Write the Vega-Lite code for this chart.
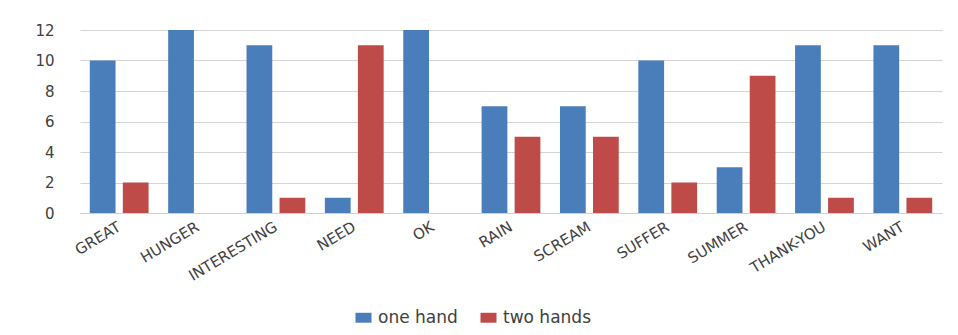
{
  "$schema": "https://vega.github.io/schema/vega-lite/v6.json",
  "width": 862,
  "height": 183,
  "autosize": {"type": "none"},
  "padding": {"left": 80, "top": 30, "right": 16, "bottom": 122},
  "background": "white",
  "config": {
    "view": {"stroke": null},
    "font": "DejaVu Sans",
    "axis": {"labelColor": "#404040", "labelFont": "DejaVu Sans"},
    "legend": {"labelFont": "DejaVu Sans"}
  },
  "data": {
    "values": [
      {"sign": "GREAT", "group": "one hand", "count": 10},
      {"sign": "GREAT", "group": "two hands", "count": 2},
      {"sign": "HUNGER", "group": "one hand", "count": 12},
      {"sign": "HUNGER", "group": "two hands", "count": 0},
      {"sign": "INTERESTING", "group": "one hand", "count": 11},
      {"sign": "INTERESTING", "group": "two hands", "count": 1},
      {"sign": "NEED", "group": "one hand", "count": 1},
      {"sign": "NEED", "group": "two hands", "count": 11},
      {"sign": "OK", "group": "one hand", "count": 12},
      {"sign": "OK", "group": "two hands", "count": 0},
      {"sign": "RAIN", "group": "one hand", "count": 7},
      {"sign": "RAIN", "group": "two hands", "count": 5},
      {"sign": "SCREAM", "group": "one hand", "count": 7},
      {"sign": "SCREAM", "group": "two hands", "count": 5},
      {"sign": "SUFFER", "group": "one hand", "count": 10},
      {"sign": "SUFFER", "group": "two hands", "count": 2},
      {"sign": "SUMMER", "group": "one hand", "count": 3},
      {"sign": "SUMMER", "group": "two hands", "count": 9},
      {"sign": "THANK-YOU", "group": "one hand", "count": 11},
      {"sign": "THANK-YOU", "group": "two hands", "count": 1},
      {"sign": "WANT", "group": "one hand", "count": 11},
      {"sign": "WANT", "group": "two hands", "count": 1}
    ]
  },
  "mark": {"type": "bar"},
  "encoding": {
    "x": {
      "field": "sign",
      "type": "nominal",
      "sort": null,
      "scale": {"paddingInner": 0.25, "paddingOuter": 0.125},
      "axis": {
        "title": null,
        "labelAngle": -31,
        "labelAlign": "right",
        "labelBaseline": "middle",
        "labelPadding": 12,
        "labelFontSize": 15,
        "ticks": false,
        "domain": true,
        "domainColor": "#d0d0d0",
        "grid": false
      }
    },
    "xOffset": {
      "field": "group",
      "type": "nominal",
      "scale": {"paddingInner": 0.22, "paddingOuter": 0}
    },
    "y": {
      "field": "count",
      "type": "quantitative",
      "scale": {"domain": [0, 12], "nice": false},
      "axis": {
        "title": null,
        "values": [0, 2, 4, 6, 8, 10, 12],
        "domain": false,
        "ticks": false,
        "labelPadding": 26,
        "labelFontSize": 15,
        "gridColor": "#d4d4d4",
        "gridWidth": 1.2
      }
    },
    "color": {
      "field": "group",
      "type": "nominal",
      "scale": {"domain": ["one hand", "two hands"], "range": ["#4a7ebb", "#be4b48"]},
      "legend": {
        "title": null,
        "orient": "none",
        "direction": "horizontal",
        "legendX": 275,
        "legendY": 279,
        "symbolType": "M-1,-0.62H1V0.62H-1Z",
        "symbolSize": 256,
        "symbolStrokeWidth": 0,
        "labelFontSize": 17,
        "labelColor": "#404040",
        "columnPadding": 22,
        "labelOffset": 6
      }
    }
  }
}
